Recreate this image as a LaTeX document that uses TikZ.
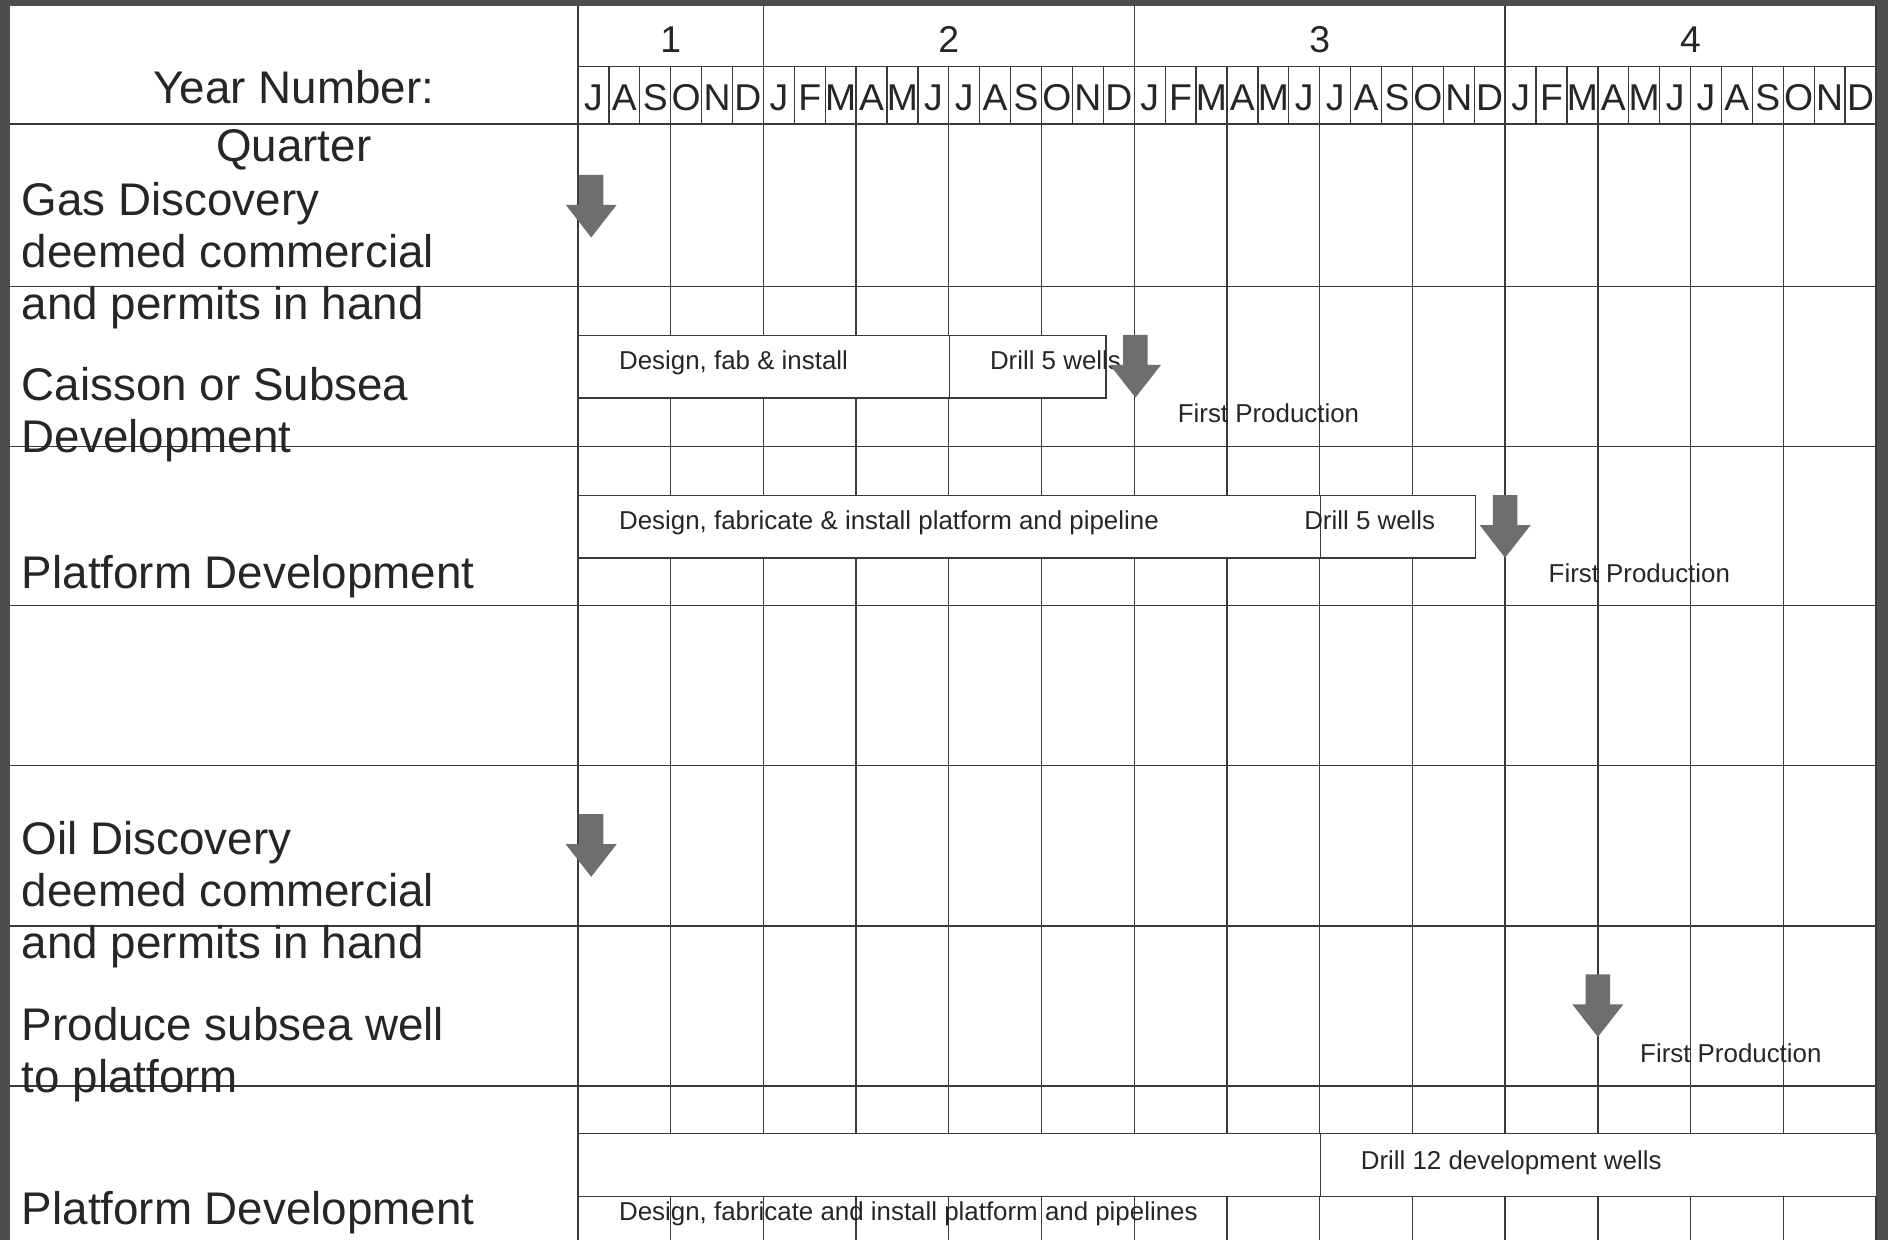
\documentclass[tikz,border=0pt]{standalone}
\usepackage{fontspec}
\setmainfont{Liberation Sans}
\usepackage{xcolor}
\usetikzlibrary{shapes.arrows, positioning}

\definecolor{framegray}{HTML}{4D4D4D}
\definecolor{linegray}{HTML}{3A3A3A}
\definecolor{inkgray}{HTML}{262626}
\definecolor{arrowgray}{HTML}{6E6E6E}

\tikzset{
  gridline/.style  = {draw=linegray, line width=1.1pt},
  bar/.style       = {rectangle, draw=linegray, fill=white, line width=1.1pt,
                      anchor=north west, minimum height=52pt, inner sep=0pt},
  rowlabel/.style  = {anchor=base west, align=left, inner sep=0pt, text=inkgray,
                      font=\fontsize{38}{43}\selectfont},
  note/.style      = {anchor=base west, inner sep=0pt, text=inkgray,
                      font=\fontsize{21.5}{25}\selectfont},
  monthlbl/.style  = {anchor=base, inner sep=0pt, text=inkgray,
                      font=\fontsize{31}{31}\selectfont},
  milestone/.style = {single arrow, shape border rotate=270, fill=arrowgray, draw=none,
                      inner sep=10pt, minimum height=52pt, single arrow head extend=11pt,
                      single arrow tip angle=76, anchor=tail},
}

\begin{document}
\begin{tikzpicture}[x=1pt, y=-1pt]

    \useasboundingbox (0,0) rectangle (1568,1030);
    \fill[white] (0,0) rectangle (1568,1030);

    %% quarter grid
    \foreach \k in {1,...,13}
        \draw[gridline] ({480+77*\k},103) -- ({480+77*\k},1030);
    \foreach \y in {238,371,503,636,769,902}
        \draw[gridline] (8,\y) -- (1558,\y);

    %% header: years and months
    \draw[gridline] (480,55) -- (1558,55);
    \draw[gridline] (8,103) -- (1558,103);
    \draw[gridline] (480,5) -- (480,1030);
    \draw[gridline] (1558,5) -- (1558,1030);
    \foreach \k in {2,6,10}
        \draw[gridline] ({480+77*\k},5) -- ({480+77*\k},103);
    \foreach \i in {1,...,41}
        \draw[gridline] ({480+25.667*\i},55) -- ({480+25.667*\i},103);

    \foreach \yr/\xc in {1/557,2/788,3/1096,4/1404}
        \node[monthlbl] (year\yr) at (\xc,44) {\yr};
    \foreach \m [count=\i from 0] in {J,A,S,O,N,D,J,F,M,A,M,J,J,A,S,O,N,D,%
                                       J,F,M,A,M,J,J,A,S,O,N,D,J,F,M,A,M,J,J,A,S,O,N,D}
        \node[monthlbl] (mon\i) at ({480+25.667*(\i+0.5)},92) {\m};

    \node[rowlabel, anchor=base] (yearlbl) at (244,86)  {Year Number:};
    \node[rowlabel, anchor=base] (qtrlbl)  at (244,134) {Quarter};

    %% row labels (base = last line)
    \node[rowlabel] (gaslbl)     at (18,265)  {Gas Discovery\\deemed commercial\\and permits in hand};
    \node[rowlabel] (caissonlbl) at (18,376)  {Caisson or Subsea\\Development};
    \node[rowlabel] (gasplatlbl) at (18,489)  {Platform Development};
    \node[rowlabel] (oillbl)     at (18,796)  {Oil Discovery\\deemed commercial\\and permits in hand};
    \node[rowlabel] (subsealbl)  at (18,907)  {Produce subsea well\\to platform};
    \node[rowlabel] (oilplatlbl) at (18,1017) {Platform Development};

    %% activity bars
    \node[bar, minimum width=308pt] (cfab)   at (480,278)  {};
    \node[bar, minimum width=130pt] (cdrill) at (788,278)  {};
    \node[bar, minimum width=616pt] (pfab)   at (480,411)  {};
    \node[bar, minimum width=129pt] (pdrill) at (1096,411) {};
    \node[bar, minimum width=616pt] (ofab)   at (480,941)  {};
    \node[bar, minimum width=462pt] (odrill) at (1096,941) {};

    \node[note] (cfabtxt)   at (514,307)  {Design, fab \& install};
    \node[note] (cdrilltxt) at (822,307)  {Drill 5 wells};
    \node[note] (pfabtxt)   at (514,440)  {Design, fabricate \& install platform and pipeline};
    \node[note] (pdrilltxt) at (1083,440) {Drill 5 wells};
    \node[note] (odrilltxt) at (1130,971) {Drill 12 development wells};
    \node[note] (ofabtxt)   at (514,1014) {Design, fabricate and install platform and pipelines};

    \node[note] (cfirst) at (978,351)  {First Production};
    \node[note] (pfirst) at (1286,484) {First Production};
    \node[note] (sfirst) at (1362,882) {First Production};

    %% milestones
    \node[milestone] (gasmark)     at (491,145)  {};
    \node[milestone] (caissonmark) at (943,278)  {};
    \node[milestone] (platmark)    at (1250,411) {};
    \node[milestone] (oilmark)     at (491,676)  {};
    \node[milestone] (subseamark)  at (1327,809) {};

    %% frame
    \fill[framegray] (0,0) rectangle (1568,5);
    \fill[framegray] (0,0) rectangle (8,1030);
    \fill[framegray] (1559,0) rectangle (1568,1030);

\end{tikzpicture}
\end{document}
